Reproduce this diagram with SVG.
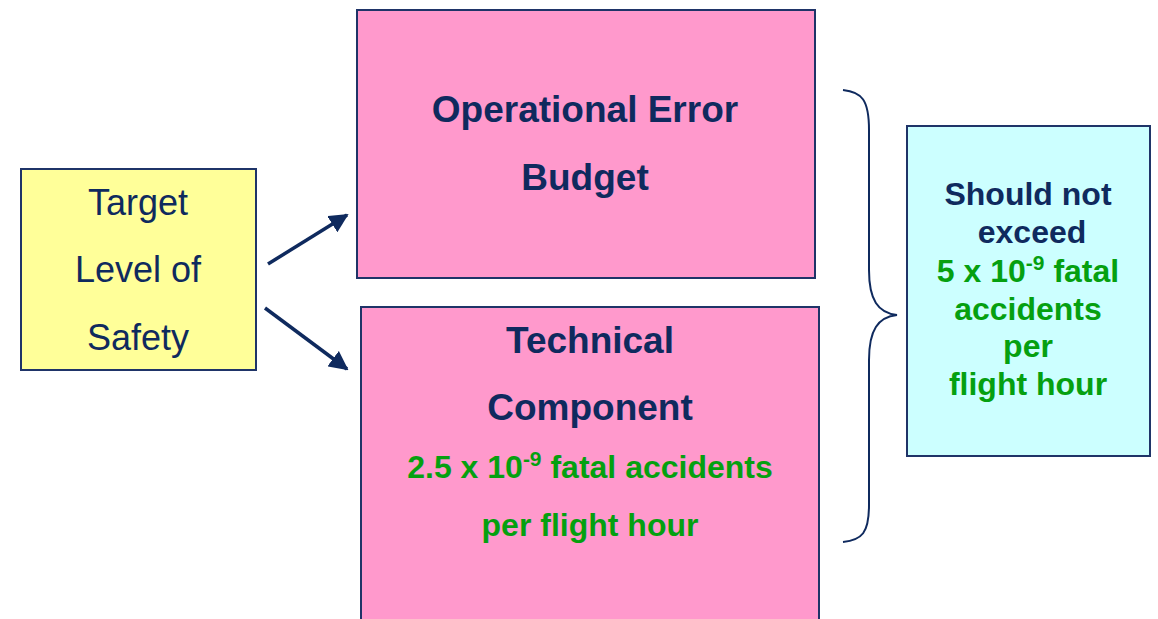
<svg xmlns="http://www.w3.org/2000/svg" width="1158" height="619" viewBox="0 0 1158 619">
<defs>
<style>
.box{stroke:#1f3468;stroke-width:2}
.t{font-family:"Liberation Sans",Arial,sans-serif;text-anchor:middle}
.reg{font-size:36px;fill:#0f2a5e}
.hd{font-size:37px;font-weight:bold;fill:#0f2a5e}
.nv{font-size:32px;font-weight:bold;fill:#0f2a5e}
.gr{font-size:32px;font-weight:bold;fill:#05a010}
.conn{stroke:#0f2a5e;stroke-width:3.5;fill:none}
</style>
<marker id="ah" viewBox="0 0 10 10" refX="9" refY="5" markerWidth="5.5" markerHeight="5.5" orient="auto" markerUnits="strokeWidth">
<path d="M0,0 L10,5 L0,10 Z" fill="#0f2a5e"/>
</marker>
</defs>
<rect width="1158" height="619" fill="#ffffff"/>
<g id="target">
<rect class="box" x="21" y="169" width="235" height="201" fill="#ffff99"/>
<text class="t reg" x="138" y="215">Target</text>
<text class="t reg" x="138" y="282">Level of</text>
<text class="t reg" x="138" y="350">Safety</text>
</g>
<g id="operational">
<rect class="box" x="357" y="10" width="458" height="268" fill="#ff99cc"/>
<text class="t hd" x="585" y="122">Operational Error</text>
<text class="t hd" x="585" y="190">Budget</text>
</g>
<g id="technical">
<rect class="box" x="361" y="307" width="458" height="330" fill="#ff99cc"/>
<text class="t hd" x="590" y="353">Technical</text>
<text class="t hd" x="590" y="420">Component</text>
<text class="t gr" x="590" y="478">2.5 x 10<tspan font-size="21" dy="-12">-9</tspan><tspan dy="12"> fatal accidents</tspan></text>
<text class="t gr" x="590" y="536">per flight hour</text>
</g>
<g id="limit">
<rect class="box" x="907" y="126" width="243" height="330" fill="#ccffff"/>
<text class="t nv" x="1028" y="205">Should not</text>
<text class="t nv" x="1032" y="243">exceed</text>
<text class="t gr" x="1028" y="282">5 x 10<tspan font-size="21" dy="-12">-9</tspan><tspan dy="12"> fatal</tspan></text>
<text class="t gr" x="1028" y="320">accidents</text>
<text class="t gr" x="1028" y="357">per</text>
<text class="t gr" x="1028" y="395">flight hour</text>
</g>
<g id="connectors">
<line class="conn" x1="268" y1="264" x2="347" y2="215" marker-end="url(#ah)"/>
<line class="conn" x1="265" y1="308" x2="347" y2="369" marker-end="url(#ah)"/>
<path d="M843,90 C862,92 869,100 869,130 L869,270 C869,300 878,313 897,315 C878,317 869,330 869,360 L869,505 C869,533 862,540 843,542" fill="none" stroke="#0f2a5e" stroke-width="2"/>
</g>
</svg>
